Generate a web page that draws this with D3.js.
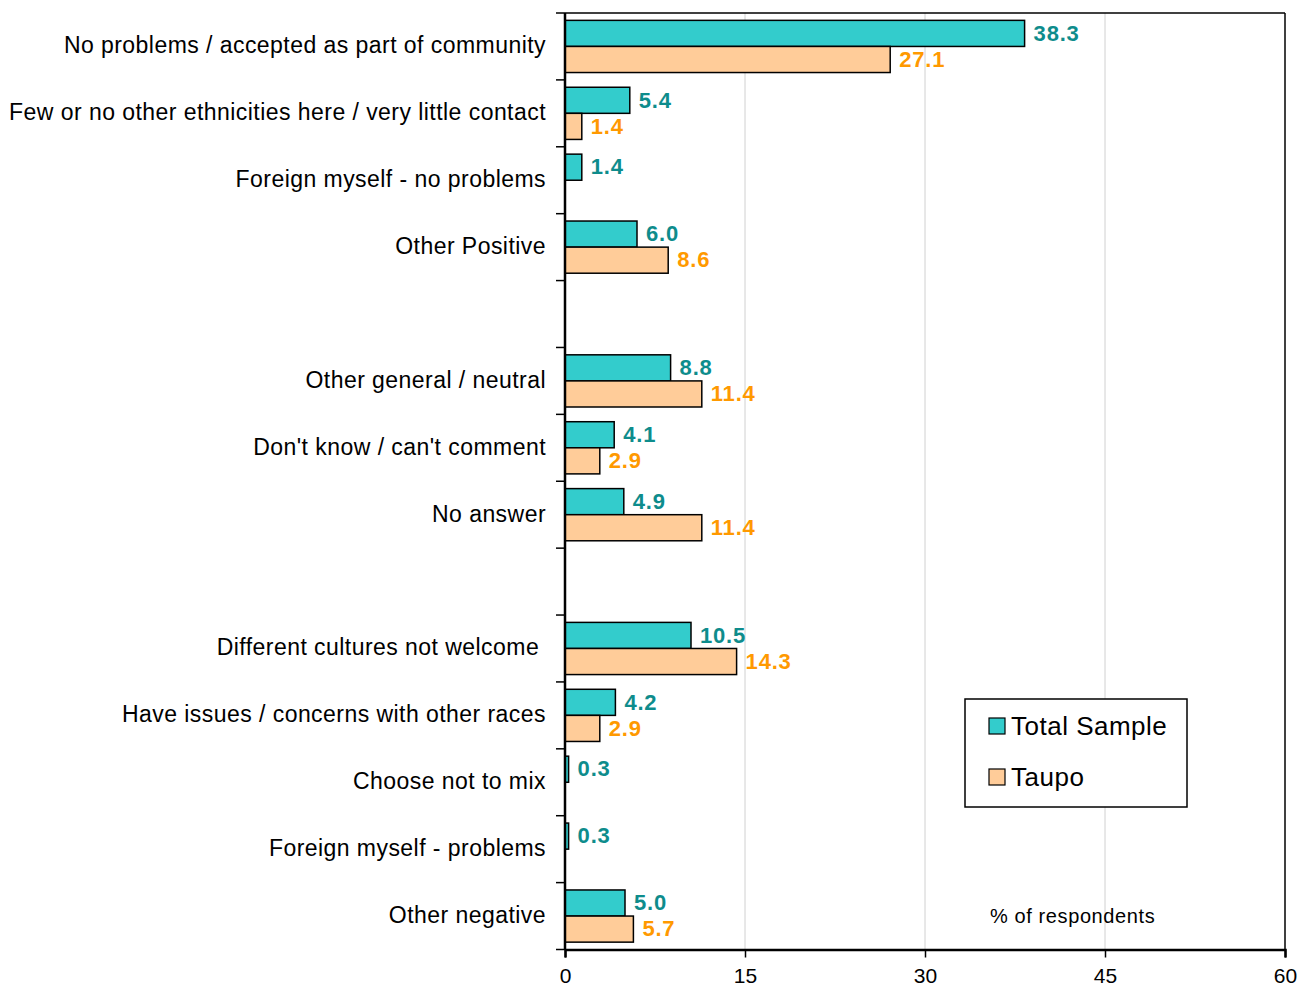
<!DOCTYPE html>
<html><head><meta charset="utf-8">
<script src="https://cdn.jsdelivr.net/npm/d3@7"></script>
<style>
body{margin:0;background:#fff;}
text{font-family:"Liberation Sans",Arial,sans-serif;}
</style></head>
<body><svg id="c" width="1308" height="988"></svg>
<script>
const categories = ["No problems / accepted as part of community","Few or no other ethnicities here / very little contact","Foreign myself - no problems","Other Positive","","Other general / neutral","Don't know / can't comment","No answer","","Different cultures not welcome ","Have issues / concerns with other races","Choose not to mix","Foreign myself - problems","Other negative"];
const totalSample = [38.3,5.4,1.4,6.0,null,8.8,4.1,4.9,null,10.5,4.2,0.3,0.3,5.0];
const taupo = [27.1,1.4,null,8.6,null,11.4,2.9,11.4,null,14.3,2.9,null,null,5.7];
const seriesNames = ["Total Sample","Taupo"];
const xTicks = [0,15,30,45,60];

const svg = d3.select("#c");
const L=565,R=1285,T=13,B=949.5;
const x = d3.scaleLinear().domain([0,60]).range([L,R]);
const idx = categories.map((d,i)=>i);
const y = d3.scaleBand().domain(idx).range([T,B]).paddingInner(0.22).paddingOuter(0.11);
const step = (B-T)/categories.length;
const y0 = d3.scaleBand().domain(idx).range([T,B]);
const sub = d3.scaleBand().domain([0,1]).range([0,y.bandwidth()]);
const fills=["#33CCCC","#FFCC99"], tcol=["#0E8C8C","#FF9900"];

// gridlines
svg.append("g").selectAll("line").data(xTicks.filter(t=>t>0&&t<60)).join("line")
 .attr("x1",d=>x(d)).attr("x2",d=>x(d)).attr("y1",T).attr("y2",B)
 .attr("stroke","#d0d0d0").attr("stroke-width",1);

// frame top & right
svg.append("line").attr("x1",L).attr("x2",R).attr("y1",T).attr("y2",T).attr("stroke","#000").attr("stroke-width",1.5);
svg.append("line").attr("x1",R).attr("x2",R).attr("y1",T).attr("y2",B).attr("stroke","#000").attr("stroke-width",1.5);

// bars
const series=[totalSample,taupo];
series.forEach((vals,s)=>{
  const g=svg.append("g");
  vals.forEach((v,i)=>{
    if(v==null) return;
    const yy=y(i)+sub(s), h=sub.bandwidth();
    g.append("rect").attr("x",x(0)).attr("y",yy).attr("width",Math.max(x(v)-x(0),0.5)).attr("height",h)
     .attr("fill",fills[s]).attr("stroke","#000").attr("stroke-width",1.5);
    g.append("text").attr("x",x(v)+9).attr("y",yy+h/2).attr("dy","0.33em")
     .attr("font-size",22).attr("letter-spacing",0.8).attr("font-weight","bold").attr("fill",tcol[s]).text(v.toFixed(1));
  });
});

// x axis
const xa = svg.append("g").attr("transform",`translate(0,${B})`)
 .call(d3.axisBottom(x).tickValues(xTicks).tickSize(8).tickPadding(11).tickFormat(d3.format("d")));
xa.select(".domain").attr("stroke","#000").attr("stroke-width",2.5);
xa.selectAll(".tick line").attr("stroke","#000").attr("stroke-width",1.5);
xa.selectAll(".tick text").attr("font-size",21).attr("fill","#000").style("font-family","'Liberation Sans',Arial,sans-serif");

// y axis line + ticks at boundaries
svg.append("line").attr("x1",L).attr("x2",L).attr("y1",T).attr("y2",B).attr("stroke","#000").attr("stroke-width",2.5);
svg.append("g").selectAll("line").data(d3.range(categories.length+1)).join("line")
 .attr("x1",L-9).attr("x2",L).attr("y1",d=>T+d*step).attr("y2",d=>T+d*step).attr("stroke","#000").attr("stroke-width",1.5);

// category labels
svg.append("g").selectAll("text").data(idx.filter(i=>categories[i]!=="")).join("text")
 .attr("x",546).attr("y",i=>y0(i)+y0.bandwidth()/2).attr("dy","0.3em")
 .attr("text-anchor","end").attr("font-size",23).attr("letter-spacing",0.45).attr("fill","#000").style("white-space","pre")
 .text(i=>categories[i]);

// legend
const lg=svg.append("g");
lg.append("rect").attr("x",965).attr("y",699).attr("width",222).attr("height",108).attr("fill","#fff").attr("stroke","#000").attr("stroke-width",1.5);
seriesNames.forEach((n,s)=>{
  const cy = s===0?726:777;
  lg.append("rect").attr("x",989).attr("y",cy-8).attr("width",16).attr("height",16).attr("fill",fills[s]).attr("stroke","#000").attr("stroke-width",1.2);
  lg.append("text").attr("x",1011).attr("y",cy).attr("dy","0.36em").attr("font-size",26).attr("letter-spacing",0.5).attr("fill","#000").text(n);
});

svg.append("text").attr("x",990).attr("y",916).attr("dy","0.36em").attr("font-size",20).attr("letter-spacing",0.6).attr("fill","#000").text("% of respondents");
</script></body></html>
